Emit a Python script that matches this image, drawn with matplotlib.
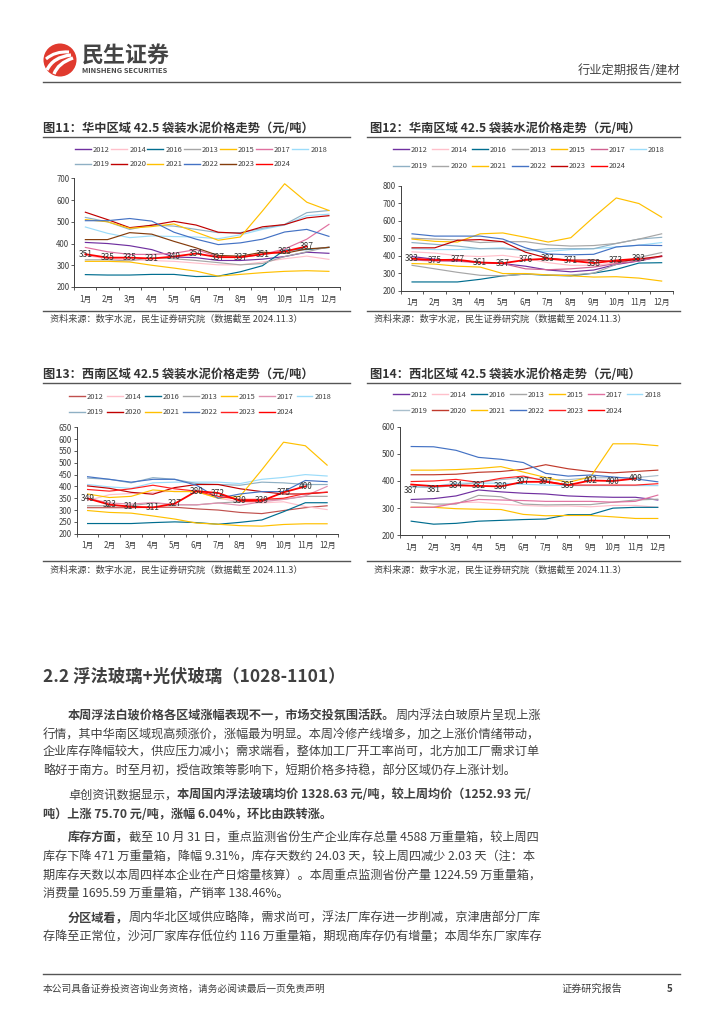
"""
Page 5 of the Minsheng Securities weekly report: four cement price charts plus the glass section text.
"""

import matplotlib
matplotlib.use("Agg")
import matplotlib.pyplot as plt
from matplotlib.patches import Circle, PathPatch
from matplotlib.path import Path
from matplotlib.lines import Line2D

plt.rcParams["font.family"] = ["Noto Sans CJK SC", "DejaVu Sans"]
plt.rcParams["axes.unicode_minus"] = False

# ── Data ───────────────────────────────────────────────────────────────────────
months = ["1月", "2月", "3月", "4月", "5月", "6月", "7月", "8月", "9月", "10月", "11月", "12月"]
years = ["2012", "2014", "2016", "2013", "2015", "2017", "2018", "2019", "2020", "2021", "2022", "2023", "2024"]

# central China
hz_2012 = [405, 400, 390, 372, 338, 335, 322, 322, 328, 340, 360, 355]
hz_2014 = [345, 330, 325, 322, 318, 310, 302, 302, 315, 330, 342, 327]
hz_2016 = [257, 255, 255, 258, 258, 248, 250, 270, 298, 370, 372, 382]
hz_2013 = [325, 325, 320, 335, 330, 322, 312, 302, 308, 340, 362, 385]
hz_2015 = [318, 318, 315, 300, 287, 273, 250, 258, 266, 272, 275, 272]
hz_2017 = [382, 362, 350, 350, 355, 372, 340, 335, 350, 375, 420, 488]
hz_2018 = [476, 447, 427, 435, 432, 430, 422, 440, 465, 485, 528, 535]
hz_2019 = [520, 500, 465, 485, 480, 465, 450, 450, 470, 488, 542, 552]
hz_2020 = [544, 510, 473, 484, 502, 485, 452, 447, 477, 487, 518, 528]
hz_2021 = [510, 500, 470, 478, 490, 452, 415, 430, 550, 675, 590, 552]
hz_2022 = [505, 505, 515, 503, 452, 420, 395, 403, 420, 453, 465, 433]
hz_2023 = [418, 418, 450, 443, 410, 380, 345, 342, 360, 355, 375, 382]
hz_2024 = [351, 335, 335, 331, 340, 354, 337, 337, 351, 363, 387]

# south China
hn_2012 = [395, 380, 372, 362, 355, 340, 318, 308, 318, 350, 370, 398]
hn_2014 = [422, 415, 400, 395, 402, 385, 360, 345, 345, 360, 385, 395]
hn_2016 = [250, 250, 250, 265, 285, 295, 288, 285, 300, 322, 358, 360]
hn_2013 = [345, 325, 305, 288, 285, 295, 290, 290, 300, 350, 390, 418]
hn_2015 = [355, 352, 340, 335, 298, 298, 290, 285, 278, 280, 272, 255]
hn_2017 = [375, 370, 368, 360, 355, 325, 320, 325, 335, 355, 370, 395]
hn_2018 = [440, 435, 435, 440, 445, 430, 425, 435, 440, 450, 460, 475]
hn_2019 = [475, 465, 455, 440, 440, 430, 440, 440, 440, 470, 495, 505]
hn_2020 = [500, 495, 490, 475, 480, 480, 462, 455, 458, 470, 495, 525]
hn_2021 = [495, 482, 478, 525, 530, 505, 478, 503, 620, 730, 698, 620]
hn_2022 = [525, 512, 512, 512, 495, 445, 410, 405, 408, 450, 460, 458]
hn_2023 = [445, 445, 488, 492, 480, 420, 385, 375, 375, 365, 380, 398]
hn_2024 = [383, 375, 377, 361, 357, 376, 383, 371, 358, 373, 383]

# south-west China
xn_2012 = [310, 310, 310, 312, 312, 305, 300, 290, 285, 298, 310, 318]
xn_2014 = [340, 365, 370, 375, 380, 378, 350, 335, 330, 335, 315, 302]
xn_2016 = [243, 243, 243, 247, 250, 247, 240, 248, 258, 293, 331, 331]
xn_2013 = [318, 318, 318, 330, 322, 322, 330, 335, 342, 345, 358, 358]
xn_2015 = [298, 290, 287, 275, 262, 245, 240, 234, 232, 239, 242, 242]
xn_2017 = [350, 330, 325, 332, 323, 322, 330, 320, 335, 345, 360, 400]
xn_2018 = [408, 398, 392, 415, 418, 418, 418, 412, 430, 438, 450, 444]
xn_2019 = [435, 430, 415, 437, 430, 412, 408, 405, 418, 415, 408, 408]
xn_2020 = [402, 392, 375, 367, 395, 408, 408, 390, 378, 368, 368, 375]
xn_2021 = [368, 353, 358, 385, 378, 378, 350, 358, 470, 587, 572, 490]
xn_2022 = [441, 430, 418, 430, 430, 405, 350, 368, 378, 378, 425, 420]
xn_2023 = [387, 380, 390, 405, 390, 380, 358, 345, 345, 350, 370, 376]
xn_2024 = [349, 323, 314, 311, 327, 380, 372, 339, 339, 375, 400]

# north-west China
xb_2012 = [332, 335, 345, 367, 360, 355, 352, 345, 342, 340, 340, 330]
xb_2014 = [303, 305, 320, 322, 315, 310, 307, 308, 305, 310, 310, 303]
xb_2016 = [252, 241, 244, 252, 255, 258, 260, 276, 276, 300, 303, 303]
xb_2013 = [322, 315, 315, 347, 342, 315, 312, 313, 313, 322, 330, 333]
xb_2015 = [303, 303, 298, 296, 295, 277, 272, 273, 273, 268, 262, 262]
xb_2017 = [303, 303, 318, 332, 330, 328, 325, 325, 325, 322, 325, 348]
xb_2018 = [380, 380, 392, 392, 392, 388, 385, 383, 383, 383, 383, 383]
xb_2019 = [378, 375, 385, 395, 405, 412, 405, 405, 412, 412, 412, 420]
xb_2020 = [423, 423, 425, 432, 435, 443, 460, 445, 435, 430, 435, 440]
xb_2021 = [440, 440, 442, 446, 453, 433, 413, 395, 415, 537, 537, 530]
xb_2022 = [527, 526, 513, 487, 480, 468, 428, 418, 422, 415, 408, 397]
xb_2023 = [398, 400, 406, 395, 410, 418, 400, 385, 385, 385, 385, 390]
xb_2024 = [387, 381, 384, 382, 380, 397, 397, 385, 402, 400, 409]

hz_series = [hz_2012, hz_2014, hz_2016, hz_2013, hz_2015, hz_2017, hz_2018, hz_2019, hz_2020, hz_2021, hz_2022, hz_2023, hz_2024]
hn_series = [hn_2012, hn_2014, hn_2016, hn_2013, hn_2015, hn_2017, hn_2018, hn_2019, hn_2020, hn_2021, hn_2022, hn_2023, hn_2024]
xn_series = [xn_2012, xn_2014, xn_2016, xn_2013, xn_2015, xn_2017, xn_2018, xn_2019, xn_2020, xn_2021, xn_2022, xn_2023, xn_2024]
xb_series = [xb_2012, xb_2014, xb_2016, xb_2013, xb_2015, xb_2017, xb_2018, xb_2019, xb_2020, xb_2021, xb_2022, xb_2023, xb_2024]

hz_colors = ["#7030A0", "#FFC0CB", "#006D8F", "#A6A6A6", "#FFC000", "#E0709F", "#9BDCFA", "#8FB0C4", "#C00000", "#FFC000", "#4472C4", "#843C0C", "#FF0000"]
hn_colors = ["#7030A0", "#FFC0CB", "#006D8F", "#A6A6A6", "#FFC000", "#D0608F", "#9BDCFA", "#8FB0C4", "#A6A6A6", "#FFC000", "#4472C4", "#C00000", "#FF0000"]
xn_colors = ["#C0504D", "#FFC0CB", "#006D8F", "#A6A6A6", "#FFC000", "#E090B0", "#9BDCFA", "#8FB0C4", "#C00000", "#FFC000", "#4472C4", "#FF2020", "#FF0000"]
xb_colors = ["#7030A0", "#FFC0CB", "#006D8F", "#A6A6A6", "#FFC000", "#E0709F", "#9BDCFA", "#A9BFCC", "#C0392B", "#FFC000", "#4472C4", "#FF2020", "#FF0000"]

body_color = "#404040"

# ── Page ───────────────────────────────────────────────────────────────────────
fig = plt.figure(figsize=(7.24, 10.24), dpi=100)
page = fig.add_axes([0, 0, 1, 1])
page.set_xlim(0, 724)
page.set_ylim(1024, 0)
page.axis("off")


def to_fig(x0, y_top, x1, y_bottom):
    return [x0 / 724, 1 - y_bottom / 1024, (x1 - x0) / 724, (y_bottom - y_top) / 1024]


def draw_chart(box, ylim, step, series, colors, title, title_pos, rules, source_pos, legend_pos, pitch, row_gap, label_shift):
    ax = fig.add_axes(to_fig(*box))
    ax.patch.set_alpha(0)
    for vals, col, yr in zip(series, colors, years):
        lw = 1.3 if yr == "2024" else 0.85
        ax.plot(range(len(vals)), vals, color=col, linewidth=lw, label=yr, solid_joinstyle="round")
    for i, v in enumerate(series[-1]):
        ax.annotate(str(v), (i, v), xytext=(0, label_shift.get(i, 0)), textcoords="offset points",
                    ha="center", va="center", fontsize=6, color="#333333")
    ax.set_xlim(-0.5, 11.5)
    ax.set_ylim(*ylim)
    ax.set_yticks(range(ylim[0], ylim[1] + 1, step))
    ax.set_xticks([i - 0.5 for i in range(13)])
    ax.set_xticklabels([])
    ax.set_xticks(range(12), minor=True)
    ax.set_xticklabels(months, minor=True)
    ax.tick_params(axis="x", which="minor", length=0, labelsize=5.7, pad=5.5, labelcolor="#404040")
    ax.tick_params(axis="x", which="major", length=2, width=0.6, color="#404040")
    ax.tick_params(axis="y", length=2, width=0.6, labelsize=5.7, pad=1.5, color="#404040", labelcolor="#404040")
    for s in ["top", "right"]:
        ax.spines[s].set_visible(False)
    for s in ["left", "bottom"]:
        ax.spines[s].set_linewidth(0.7)
        ax.spines[s].set_color("#404040")

    # legend fills column by column, so pair up the two rows
    handles = [Line2D([], [], color=c, linewidth=1.0) for c in colors]
    order = []
    for i in range(7):
        order.append(i)
        if i + 7 < len(years):
            order.append(i + 7)
    ax.legend([handles[i] for i in order], [years[i] for i in order], ncol=7, frameon=False,
              loc="upper left", bbox_to_anchor=legend_pos, bbox_transform=page.transData,
              fontsize=5.4, borderpad=0, borderaxespad=0, handlelength=2.13, handletextpad=0.27,
              columnspacing=(pitch - 34.7) / 7.5, labelspacing=(row_gap - 7.5) / 7.5, labelcolor="#404040")

    page.text(title_pos[0], title_pos[1], title, fontsize=8.8, fontweight="bold", color="#333333", va="center")
    page.plot(rules[0], [rules[1], rules[1]], color="#555555", linewidth=1.0)
    page.plot(rules[0], [rules[2], rules[2]], color="#555555", linewidth=1.0)
    page.text(source_pos[0], source_pos[1], "资料来源：数字水泥，民生证券研究院（数据截至 2024.11.3）",
              fontsize=6.6, color="#404040", va="center")


draw_chart((74.3, 178.3, 340, 287), (200, 700), 100, hz_series, hz_colors,
           "图11：华中区域 42.5 袋装水泥价格走势（元/吨）", (43, 129), ((43, 350), 136.5, 310.5),
           (50, 319.5), (75, 146), 36, 14, {})
draw_chart((400.7, 185.7, 673, 290.7), (200, 800), 100, hn_series, hn_colors,
           "图12：华南区域 42.5 袋装水泥价格走势（元/吨）", (370, 129), ((367, 680), 136.5, 310.5),
           (374, 319.5), (393, 146), 39.3, 16, {})
draw_chart((76.7, 427.3, 338, 533.7), (200, 650), 50, xn_series, xn_colors,
           "图13：西南区域 42.5 袋装水泥价格走势（元/吨）", (43, 375), ((43, 350), 382.5, 560.5),
           (50, 570), (69, 393), 37.7, 15, {})
draw_chart((400, 426.7, 669, 535.3), (200, 600), 100, xb_series, xb_colors,
           "图14：西北区域 42.5 袋装水泥价格走势（元/吨）", (370, 375), ((367, 680), 382.5, 560.5),
           (374, 570), (393, 391), 38.7, 15.5, {0: -4.5, 1: -2.5})

# ── Header ─────────────────────────────────────────────────────────────────────
page.add_patch(Circle((60, 60), 16.5, color="#E03A2E", linewidth=0))
for (x0, y0, cx, cy, x1, y1, w) in [(46, 59, 55, 51, 69, 52, 2.2), (47, 70, 53, 57, 71, 55, 2.4), (54, 74, 58, 63, 73, 58, 2.4)]:
    page.add_patch(PathPatch(Path([(x0, y0), (cx, cy), (x1, y1)], [Path.MOVETO, Path.CURVE3, Path.CURVE3]),
                             facecolor="none", edgecolor="white", linewidth=w))
page.text(82, 56, "民生证券", fontsize=15.8, fontweight="bold", color="#444444", va="center")
page.text(82, 70.5, "MINSHENG SECURITIES", fontsize=5.4, fontweight="bold", color="#444444", va="center")
page.text(680, 70, "行业定期报告/建材", fontsize=8.8, color="#444444", ha="right", va="center")
page.plot([43, 680], [82, 82], color="#555555", linewidth=1.0)

# ── Section text ───────────────────────────────────────────────────────────────
page.text(43, 677, "2.2 浮法玻璃+光伏玻璃（1028-1101）", fontsize=12.5, fontweight="bold", color="#404040", va="center")


def put_runs(x, y, runs):
    # runs of (text, bold) laid end to end
    rend = fig.canvas.get_renderer()
    for s, bold in runs:
        t = page.text(x, y, s, fontsize=8.75, fontweight="bold" if bold else "normal", color=body_color, va="center")
        x = page.transData.inverted().transform(t.get_window_extent(rend).p1)[0]


body_lines = [
    (68, 716, [("本周浮法白玻价格各区域涨幅表现不一，市场交投氛围活跃。", True), ("周内浮法白玻原片呈现上涨", False)]),
    (43, 735, [("行情，其中华南区域现高频涨价，涨幅最为明显。本周冷修产线增多，加之上涨价情绪带动，", False)]),
    (43, 752, [("企业库存降幅较大，供应压力减小；需求端看，整体加工厂开工率尚可，北方加工厂需求订单", False)]),
    (43, 771, [("略好于南方。时至月初，授信政策等影响下，短期价格多持稳，部分区域仍存上涨计划。", False)]),
    (68, 795, [("卓创资讯数据显示，", False), ("本周国内浮法玻璃均价 1328.63 元/吨，较上周均价（1252.93 元/", True)]),
    (43, 814, [("吨）上涨 75.70 元/吨，涨幅 6.04%，环比由跌转涨。", True)]),
    (68, 838, [("库存方面，", True), ("截至 10 月 31 日，重点监测省份生产企业库存总量 4588 万重量箱，较上周四", False)]),
    (43, 857, [("库存下降 471 万重量箱，降幅 9.31%，库存天数约 24.03 天，较上周四减少 2.03 天（注：本", False)]),
    (43, 875, [("期库存天数以本周四样本企业在产日熔量核算）。本周重点监测省份产量 1224.59 万重量箱，", False)]),
    (43, 893, [("消费量 1695.59 万重量箱，产销率 138.46%。", False)]),
    (68, 918, [("分区域看，", True), ("周内华北区域供应略降，需求尚可，浮法厂库存进一步削减，京津唐部分厂库", False)]),
    (43, 937, [("存降至正常位，沙河厂家库存低位约 116 万重量箱，期现商库存仍有增量；本周华东厂家库存", False)]),
]
for x, y, runs in body_lines:
    put_runs(x, y, runs)

# ── Footer ─────────────────────────────────────────────────────────────────────
page.plot([43, 680], [974, 974], color="#555555", linewidth=1.0)
page.text(43, 989, "本公司具备证券投资咨询业务资格，请务必阅读最后一页免责声明", fontsize=7, color="#404040", va="center")
page.text(622, 989, "证券研究报告", fontsize=7.3, color="#404040", ha="right", va="center")
page.text(670, 989, "5", fontsize=7, fontweight="bold", color="#404040", ha="center", va="center")

fig.savefig("out.png", dpi=100)
